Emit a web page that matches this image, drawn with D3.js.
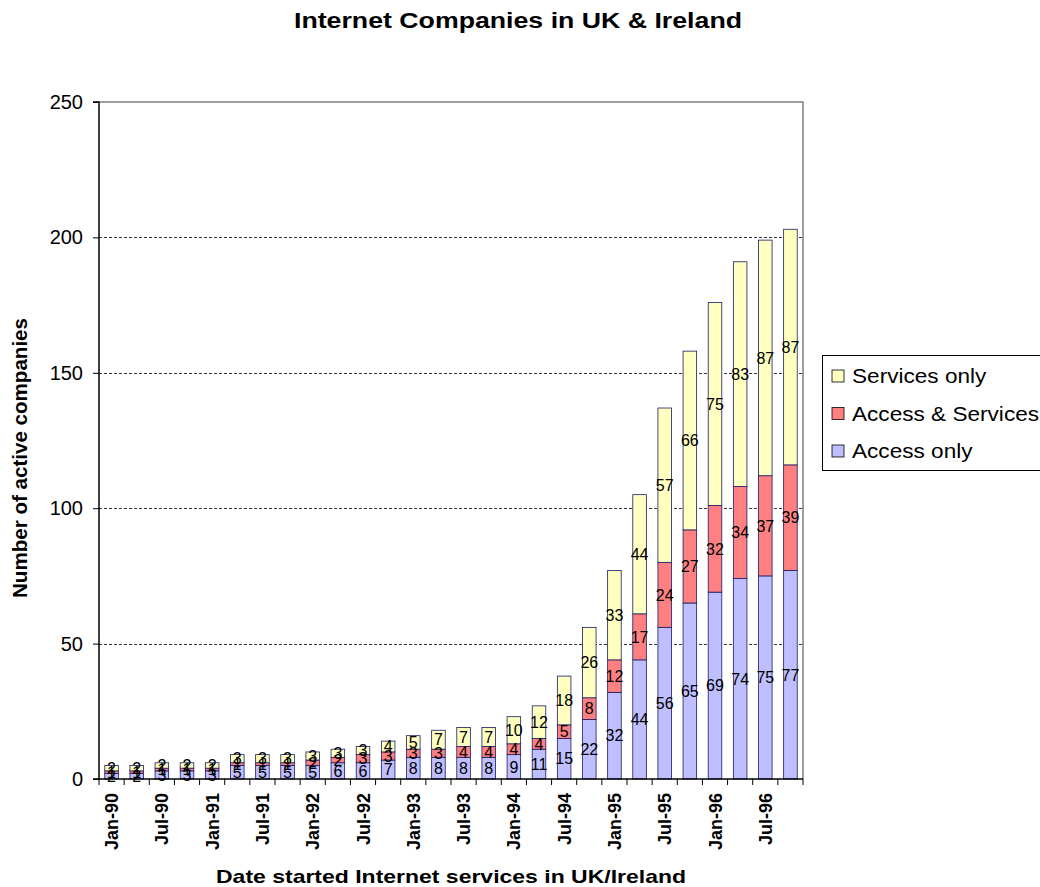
<!DOCTYPE html>
<html>
<head>
<meta charset="utf-8">
<script src="https://cdn.jsdelivr.net/npm/d3@7"></script>
<style>
  html, body { margin: 0; padding: 0; background: #fff; }
  svg { display: block; font-family: "Liberation Sans", Arial, sans-serif; }
</style>
</head>
<body>
<svg id="chart" width="1040" height="887"></svg>
<script>
// Quarterly start dates of Internet services
const quarters = [
  "Jan-90","Apr-90","Jul-90","Oct-90",
  "Jan-91","Apr-91","Jul-91","Oct-91",
  "Jan-92","Apr-92","Jul-92","Oct-92",
  "Jan-93","Apr-93","Jul-93","Oct-93",
  "Jan-94","Apr-94","Jul-94","Oct-94",
  "Jan-95","Apr-95","Jul-95","Oct-95",
  "Jan-96","Apr-96","Jul-96","Oct-96"
];
const accessOnly      = [2,2,3,3,3,5,5,5,5,6,6,7,8,8,8,8,9,11,15,22,32,44,56,65,69,74,75,77];
const accessServices  = [1,1,1,1,1,1,1,1,2,2,3,3,3,3,4,4,4,4,5,8,12,17,24,27,32,34,37,39];
const servicesOnly    = [2,2,2,2,2,3,3,3,3,3,3,4,5,7,7,7,10,12,18,26,33,44,57,66,75,83,87,87];
const seriesNames = ["Access only", "Access & Services", "Services only"];
const seriesColors = ["#BFBFFF", "#FF8080", "#FFFFC0"];
const yTicks = [0, 50, 100, 150, 200, 250];
const xTickLabels = quarters.filter((d, i) => i % 2 === 0);

const svg = d3.select("#chart");
const margin = { left: 99, right: 237, top: 102, bottom: 108 };
const W = 1040, H = 887;
const x0 = margin.left, x1 = W - margin.right;
const y0 = H - margin.bottom, y1 = margin.top;

const x = d3.scaleBand().domain(quarters).range([x0, x1]).paddingInner(0.46).paddingOuter(0.23);
const y = d3.scaleLinear().domain([0, 250]).range([y0, y1]);

// Stack rows built from the series arrays
const rows = quarters.map((q, i) => ({
  q, "Access only": accessOnly[i], "Access & Services": accessServices[i], "Services only": servicesOnly[i]
}));
const stacked = d3.stack().keys(seriesNames)(rows);

// Plot frame (top and right edges)
svg.append("path")
  .attr("d", `M${x0},${y1}H${x1}V${y0}`)
  .attr("fill", "none").attr("stroke", "#808080").attr("stroke-width", 1.5);

// Dashed gridlines
svg.append("g").selectAll("line")
  .data(yTicks.filter(t => t > 0 && t < 250))
  .join("line")
  .attr("x1", x0).attr("x2", x1)
  .attr("y1", d => Math.round(y(d)) + 0.5).attr("y2", d => Math.round(y(d)) + 0.5)
  .attr("stroke", "#000").attr("stroke-width", 0.8).attr("stroke-dasharray", "3,2");

// Bars
const layers = svg.append("g").selectAll("g")
  .data(stacked).join("g")
  .attr("fill", (d, i) => seriesColors[i]);
layers.selectAll("rect")
  .data(d => d).join("rect")
  .attr("x", d => x(d.data.q))
  .attr("width", x.bandwidth())
  .attr("y", d => y(d[1]))
  .attr("height", d => y(d[0]) - y(d[1]))
  .attr("stroke", "#1a1a66").attr("stroke-width", 0.8);

// Value labels centered in each segment
const labels = svg.append("g").attr("font-size", 16).attr("text-anchor", "middle").attr("fill", "#000");
stacked.forEach(layer => {
  labels.selectAll(null).data(layer).join("text")
    .attr("x", d => x(d.data.q) + x.bandwidth() / 2)
    .attr("y", d => (y(d[0]) + y(d[1])) / 2)
    .attr("dy", "0.36em")
    .text(d => d[1] - d[0]);
});

// Y axis
const yAxis = d3.axisLeft(y).tickValues(yTicks).tickSize(6).tickPadding(10);
const gy = svg.append("g").attr("transform", `translate(${x0},0)`).call(yAxis);
gy.select(".domain").attr("stroke", "#000").attr("stroke-width", 1.5).attr("d", `M-6,${y1}H0V${y0}H-6`);
gy.selectAll(".tick line").attr("stroke", "#000");
gy.selectAll(".tick text").attr("font-size", 20).attr("font-family", "Liberation Sans, Arial, sans-serif").attr("fill", "#000");

// X axis: ticks at category boundaries, labels on every other quarter
const bounds = d3.range(quarters.length + 1).map(i => x0 + i * (x1 - x0) / quarters.length);
const gx = svg.append("g");
gx.append("line").attr("x1", x0).attr("x2", x1).attr("y1", y0).attr("y2", y0)
  .attr("stroke", "#000").attr("stroke-width", 1.5);
gx.selectAll("line.tk").data(bounds).join("line").attr("class", "tk")
  .attr("x1", d => d).attr("x2", d => d).attr("y1", y0).attr("y2", y0 + 6)
  .attr("stroke", "#000").attr("stroke-width", 1);
gx.selectAll("text").data(xTickLabels).join("text")
  .attr("transform", d => `translate(${x(d) + x.bandwidth() / 2 + 6.5},${y0 + 14}) rotate(-90)`)
  .attr("text-anchor", "end")
  .attr("font-size", 18).attr("font-weight", "bold").attr("fill", "#000")
  .text(d => d);

// Titles
svg.append("text").attr("x", 518).attr("y", 28).attr("text-anchor", "middle")
  .attr("font-size", 22).attr("font-weight", "bold")
  .attr("textLength", 448).attr("lengthAdjust", "spacingAndGlyphs")
  .text("Internet Companies in UK & Ireland");
svg.append("text").attr("x", 451).attr("y", 883).attr("text-anchor", "middle")
  .attr("font-size", 19).attr("font-weight", "bold")
  .attr("textLength", 470).attr("lengthAdjust", "spacingAndGlyphs")
  .text("Date started Internet services in UK/Ireland");
svg.append("text").attr("transform", `translate(27,458) rotate(-90)`).attr("text-anchor", "middle")
  .attr("font-size", 20).attr("font-weight", "bold")
  .attr("textLength", 280).attr("lengthAdjust", "spacingAndGlyphs")
  .text("Number of active companies");

// Legend
const lg = svg.append("g").attr("transform", "translate(822,355)");
lg.append("rect").attr("x", 0.5).attr("y", 0.5).attr("width", 230).attr("height", 115)
  .attr("fill", "#fff").attr("stroke", "#000").attr("stroke-width", 1);
const legendOrder = [2, 1, 0];
legendOrder.forEach((si, k) => {
  const g = lg.append("g").attr("transform", `translate(10,${21 + k * 37.5})`);
  g.append("rect").attr("x", 0).attr("y", -6).attr("width", 12).attr("height", 12)
    .attr("fill", seriesColors[si]).attr("stroke", "#000").attr("stroke-width", 0.8);
  g.append("text").attr("transform", "translate(20,0) scale(1.13,1)")
    .attr("dy", "0.35em").attr("font-size", 20).text(seriesNames[si]);
});
</script>
</body>
</html>
